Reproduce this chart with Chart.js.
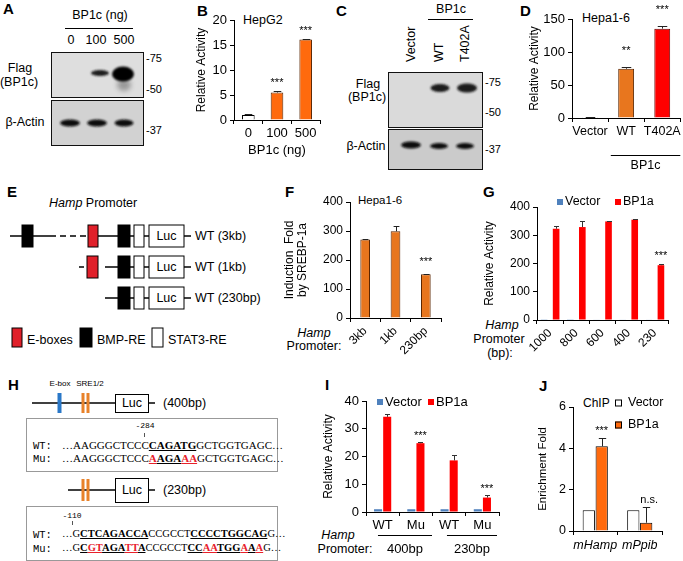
<!DOCTYPE html>
<html><head><meta charset="utf-8">
<script src="https://cdn.jsdelivr.net/npm/chart.js@4.4.1/dist/chart.umd.min.js"></script>
<style>
html,body{margin:0;padding:0;background:#fff;}
#root{position:relative;width:683px;height:561px;overflow:hidden;background:#fff;font-family:'Liberation Sans',Arial,sans-serif;color:#000;}
.seq{position:absolute;font-family:'Liberation Serif','Times New Roman',serif;font-size:11px;white-space:nowrap;line-height:1;}
.seq2{font-size:10.5px;}
.mono{font-family:'Liberation Mono','DejaVu Sans Mono',monospace;font-size:10.5px;}
.bu{font-weight:bold;text-decoration:underline;}
.r{color:#e8202a;}
canvas{position:absolute;}
</style></head><body><div id="root">
<svg width="683" height="561" style="position:absolute;left:0;top:0" font-family="'Liberation Sans', Arial, sans-serif" font-size="12.5">
<defs>
<filter id="b1" x="-50%" y="-80%" width="200%" height="260%"><feGaussianBlur stdDeviation="1.2"/></filter>
<filter id="b2" x="-50%" y="-80%" width="200%" height="260%"><feGaussianBlur stdDeviation="2.4"/></filter>
</defs>
<g font-weight="bold" font-size="15">
<text x="3" y="14">A</text><text x="197" y="16">B</text><text x="336" y="16">C</text><text x="520" y="16">D</text>
<text x="7" y="197">E</text><text x="285" y="197">F</text><text x="483" y="197">G</text>
<text x="8" y="390">H</text><text x="325" y="390">I</text><text x="539" y="391">J</text>
</g>
<!-- Panel A blot -->
<g dominant-baseline="central">
<text x="100" y="15" text-anchor="middle">BP1c (ng)</text>
<text x="71" y="40" text-anchor="middle">0</text><text x="96" y="40" text-anchor="middle">100</text><text x="124" y="40" text-anchor="middle">500</text>
<text x="20" y="68" text-anchor="middle">Flag</text><text x="19" y="82" text-anchor="middle">(BP1c)</text>
<text x="25" y="122" text-anchor="middle">β-Actin</text>
<g font-size="11"><text x="146" y="58">-75</text><text x="146" y="89">-50</text><text x="146" y="130">-37</text></g>
</g>
<line x1="65" y1="28.5" x2="133" y2="28.5" stroke="#000"/>
<rect x="51.5" y="52.5" width="92" height="45" fill="#dedede" stroke="#111"/>
<ellipse cx="100" cy="73" rx="9" ry="3" fill="#1a1a1a" filter="url(#b1)"/>
<ellipse cx="124" cy="85" rx="7" ry="6" fill="#444" opacity="0.45" filter="url(#b2)"/>
<ellipse cx="123" cy="74" rx="11" ry="7.5" fill="#050505" filter="url(#b1)"/>
<rect x="51.5" y="100.5" width="92" height="45" fill="#d2d2d2" stroke="#111"/>
<ellipse cx="70" cy="123" rx="10" ry="3.5" fill="#111" filter="url(#b1)"/>
<ellipse cx="97" cy="123" rx="10" ry="3.5" fill="#111" filter="url(#b1)"/>
<ellipse cx="124" cy="123" rx="9.5" ry="3.5" fill="#111" filter="url(#b1)"/>
<!-- Panel C blot -->
<g dominant-baseline="central">
<text x="451" y="9" text-anchor="middle">BP1c</text>
<text transform="translate(411,62) rotate(-90)">Vector</text>
<text transform="translate(439,62) rotate(-90)">WT</text>
<text transform="translate(465,62) rotate(-90)">T402A</text>
<text x="368" y="84" text-anchor="middle">Flag</text><text x="367" y="97" text-anchor="middle">(BP1c)</text>
<text x="366" y="146" text-anchor="middle">β-Actin</text>
<g font-size="11"><text x="485" y="82">-75</text><text x="485" y="112">-50</text><text x="485" y="149">-37</text></g>
</g>
<line x1="428" y1="19.5" x2="473" y2="19.5" stroke="#000"/>
<rect x="388.5" y="72.5" width="94" height="55" fill="#dadada" stroke="#111"/>
<ellipse cx="440" cy="88" rx="9.5" ry="4" fill="#1a1a1a" filter="url(#b1)"/>
<ellipse cx="467" cy="88" rx="10" ry="4.5" fill="#1a1a1a" filter="url(#b1)"/>
<rect x="388.5" y="129.5" width="94" height="40" fill="#cbcbcb" stroke="#111"/>
<ellipse cx="411" cy="145" rx="10" ry="3.5" fill="#0a0a0a" filter="url(#b1)"/>
<ellipse cx="439" cy="146" rx="9" ry="3" fill="#111" filter="url(#b1)"/>
<ellipse cx="465" cy="146" rx="9" ry="3" fill="#111" filter="url(#b1)"/>
<!-- Panel E diagram -->
<text x="49" y="203" dominant-baseline="central"><tspan font-style="italic">Hamp</tspan> Promoter</text>
<g stroke="#000" stroke-width="1.5">
<line x1="10" y1="236" x2="50" y2="236"/><line x1="50" y1="236" x2="87" y2="236" stroke-dasharray="6 4"/>
<line x1="98" y1="236" x2="191" y2="236"/>
<line x1="79" y1="267" x2="84" y2="267"/><line x1="105" y1="267" x2="191" y2="267"/>
<line x1="105" y1="298" x2="191" y2="298"/>
</g>
<g stroke="#000" stroke-width="1">
<rect x="22" y="225" width="11" height="22" fill="#000"/>
<rect x="88" y="225" width="10" height="22" fill="#e0202a"/>
<rect x="118" y="225" width="12" height="22" fill="#000"/>
<rect x="134" y="225" width="10" height="22" fill="#fff"/>
<rect x="149" y="225" width="35" height="22" fill="#fff"/>
<rect x="87" y="256" width="11" height="22" fill="#e0202a"/>
<rect x="118" y="256" width="12" height="22" fill="#000"/>
<rect x="134" y="256" width="10" height="22" fill="#fff"/>
<rect x="149" y="256" width="35" height="22" fill="#fff"/>
<rect x="118" y="287" width="12" height="22" fill="#000"/>
<rect x="134" y="287" width="10" height="22" fill="#fff"/>
<rect x="149" y="287" width="35" height="22" fill="#fff"/>
<rect x="12" y="328" width="10" height="19" fill="#e0202a"/>
<rect x="80" y="328" width="12" height="19" fill="#000"/>
<rect x="152" y="328" width="11" height="19" fill="#fff"/>
</g>
<g dominant-baseline="central">
<text x="166.5" y="236" text-anchor="middle">Luc</text><text x="195" y="236">WT (3kb)</text>
<text x="166.5" y="267" text-anchor="middle">Luc</text><text x="195" y="267">WT (1kb)</text>
<text x="166.5" y="298" text-anchor="middle">Luc</text><text x="195" y="298">WT (230bp)</text>
<text x="27" y="340">E-boxes</text><text x="97" y="340">BMP-RE</text><text x="168" y="340">STAT3-RE</text>
</g>
<!-- Panel F/G/I/J side labels -->
<g dominant-baseline="central" text-anchor="middle">
<text x="314" y="333" font-style="italic">Hamp</text><text x="314" y="346">Promoter:</text>
<text x="502" y="325" font-style="italic">Hamp</text><text x="499" y="339">Promoter</text><text x="500" y="353">(bp):</text>
<text x="338" y="535" font-style="italic">Hamp</text><text x="345" y="549">Promoter:</text>
<text x="243" y="20" text-anchor="start">HepG2</text>
<text x="582" y="18" text-anchor="start">Hepa1-6</text>
<text x="358" y="200" text-anchor="start" font-size="11.5">Hepa1-6</text>
<text x="583" y="403" text-anchor="start" font-size="12">ChIP</text>
</g>
<!-- Panel H diagram -->
<g font-size="8" text-anchor="middle" dominant-baseline="central"><text x="60" y="383">E-box</text><text x="90" y="383">SRE1/2</text></g>
<g stroke="#000" stroke-width="1.5">
<line x1="32" y1="403" x2="115" y2="403"/><line x1="148" y1="403" x2="155" y2="403"/>
<line x1="68" y1="490" x2="115" y2="490"/><line x1="148" y1="490" x2="155" y2="490"/>
</g>
<rect x="57.5" y="393" width="4" height="20" fill="#2a78c8"/>
<rect x="81.5" y="393" width="3" height="20" fill="#e8822a"/><rect x="86.5" y="393" width="3" height="20" fill="#e8822a"/>
<rect x="81.5" y="479" width="3" height="22" fill="#e8822a"/><rect x="86.5" y="479" width="3" height="22" fill="#e8822a"/>
<rect x="115.5" y="394.5" width="33" height="18" fill="#fff" stroke="#000"/>
<rect x="115.5" y="478.5" width="33" height="24" fill="#fff" stroke="#000"/>
<g dominant-baseline="central">
<text x="132" y="403" text-anchor="middle">Luc</text><text x="163" y="403">(400bp)</text>
<text x="132" y="490" text-anchor="middle">Luc</text><text x="163" y="490">(230bp)</text>
</g>
<rect x="26.5" y="418.5" width="251" height="53" fill="none" stroke="#999"/>
<rect x="26.5" y="506.5" width="251" height="54" fill="none" stroke="#999"/>
<line x1="144.5" y1="433" x2="144.5" y2="437" stroke="#555"/>
<line x1="72.5" y1="521" x2="72.5" y2="525" stroke="#555"/>
</svg>
<div class="seq mono" style="left:145px;top:422px;font-size:8px;transform:translateX(-50%)">-284</div>
<div class="seq mono" style="left:33px;top:441px">WT:</div>
<div class="seq" style="left:62px;top:440px">…AAGGGCTCCC<span class="bu">CAGATG</span>GCTGGTGAGC…</div>
<div class="seq mono" style="left:33px;top:454px">Mu:</div>
<div class="seq" style="left:62px;top:453px">…AAGGGCTCCC<span class="bu r">A</span><span class="bu">AGA</span><span class="bu r">AA</span>GCTGGTGAGC…</div>
<div class="seq mono" style="left:72px;top:512px;font-size:8px;transform:translateX(-50%)">-110</div>
<div class="seq mono" style="left:33px;top:530px">WT:</div>
<div class="seq seq2" style="left:62px;top:529px">…G<span class="bu">CTCAGACCA</span>CCGCCT<span class="bu">CCCCTGGCAG</span>G…</div>
<div class="seq mono" style="left:33px;top:544px">Mu:</div>
<div class="seq seq2" style="left:62px;top:543px">…G<span class="bu">C</span><span class="bu r">GT</span><span class="bu">AGA</span><span class="bu r">TT</span><span class="bu">A</span>CCGCCT<span class="bu">CC</span><span class="bu r">AA</span><span class="bu">TGG</span><span class="bu r">A</span><span class="bu">A</span><span class="bu r">A</span>G…</div>
</div>
<script>
// ---------- data ----------
const catsB = ['0', '100', '500'];
const valsB = [1.0, 5.5, 16.1];
const errB = [0.15, 0.25, 0.1];

const catsD = ['Vector', 'WT', 'T402A'];
const valsD = [1.2, 74.7, 135.4];
const errD = [0.4, 3, 4.5];

const catsF = ['3kb', '1kb', '230bp'];
const valsF = [271, 299, 151];
const errF = [3, 17, 2];

const catsG = ['1000', '800', '600', '400', '230'];
const vectorG = [1, 1, 2, 2, 2];
const bp1aG = [323, 329, 349, 355, 194];
const errG = [10, 20, 2, 4, 5];

const catsI = ['WT', 'Mu', 'WT', 'Mu'];
const vectorI = [1, 1, 1, 1];
const bp1aI = [34.3, 24.8, 18.6, 5.2];
const errI = [1.0, 0.3, 2.0, 0.9];

const catsJ = ['mHamp', 'mPpib'];
const vectorJ = [1, 1];
const bp1aJ = [4.1, 0.4];
const errJ = [0.38, 0.75];

// ---------- helpers ----------
const FONT = "'Liberation Sans', Arial, sans-serif";
Chart.defaults.font.family = FONT;
Chart.defaults.color = '#000';
Chart.defaults.animation = false;
Chart.defaults.plugins.legend.display = false;
Chart.defaults.plugins.tooltip.enabled = false;
const root = document.getElementById('root');

function mk(box, area, config) {
  const c = document.createElement('canvas');
  c.width = box.w; c.height = box.h;
  c.style.left = box.x + 'px'; c.style.top = box.y + 'px';
  c.style.width = box.w + 'px'; c.style.height = box.h + 'px';
  root.appendChild(c);
  config.options.responsive = false;
  config.options.devicePixelRatio = 1;
  config.options.layout = {autoPadding: false, padding: {left: 0, top: area.t - box.y, right: box.x + box.w - area.r, bottom: 0}};
  config.options.scales.x.afterFit = s => { s.height = box.y + box.h - area.b; };
  config.options.scales.y.afterFit = s => { s.width = area.l - box.x; };
  const extra = config.plugins || [];
  extra.forEach(p => p.box = box);
  return new Chart(c, config);
}
function yAxis(max, step, size, title, tsize, lh) {
  return {min: 0, max: max,
    ticks: {stepSize: step, color: '#000', font: {size: size}, padding: 3},
    grid: {display: true, drawOnChartArea: false, drawTicks: true, tickLength: 4, color: '#000'},
    border: {display: true, color: '#000'},
    title: {display: true, text: title, color: '#000', font: {size: tsize, lineHeight: lh || 1.2}, padding: 0}};
}
function xAxis(size, rot, extra) {
  return Object.assign({
    ticks: {color: '#000', font: {size: size}, padding: 2, minRotation: rot, maxRotation: rot, autoSkip: false},
    grid: {display: true, drawOnChartArea: false, drawTicks: true, tickLength: 4, color: '#000', offset: true},
    border: {display: true, color: '#000'}}, extra || {});
}
const errPlugin = {id: 'errbars', afterDatasetsDraw(chart) {
  const ctx = chart.ctx, y = chart.scales.y;
  chart.data.datasets.forEach((ds, di) => {
    if (!ds.errors) return;
    chart.getDatasetMeta(di).data.forEach((bar, i) => {
      const e = ds.errors[i]; if (!e) return;
      const top = Math.round(y.getPixelForValue(ds.data[i] + e)) + 0.5;
      const w = Math.max(2.5, bar.width * 0.3);
      const x = Math.round(bar.x) + 0.5;
      ctx.save(); ctx.strokeStyle = ds.errColor || '#222'; ctx.lineWidth = 1;
      ctx.beginPath(); ctx.moveTo(x, bar.y); ctx.lineTo(x, top);
      ctx.moveTo(x - w, top); ctx.lineTo(x + w, top); ctx.stroke(); ctx.restore();
    });
  });
}};
function marks(list, gap, size) {
  return {id: 'marks', afterDatasetsDraw(chart) {
    const ctx = chart.ctx, y = chart.scales.y;
    ctx.save(); ctx.fillStyle = '#000'; ctx.font = (size || 11) + 'px ' + FONT;
    ctx.textAlign = 'center'; ctx.textBaseline = 'bottom';
    list.forEach(m => {
      const ds = chart.data.datasets[m.ds];
      const bar = chart.getDatasetMeta(m.ds).data[m.i];
      const v = ds.data[m.i] + ((ds.errors && ds.errors[m.i]) || 0);
      ctx.fillText(m.text, bar.x + (m.dx || 0), y.getPixelForValue(v) - (m.gap != null ? m.gap : gap));
    });
    ctx.restore();
  }};
}
function groups(items, lineDy, labelDy, size) {
  return {id: 'groups', afterDraw(chart) {
    const ctx = chart.ctx, x = chart.scales.x, b = chart.chartArea.bottom;
    const half = (x.getPixelForValue(1) - x.getPixelForValue(0)) / 2;
    ctx.save(); ctx.strokeStyle = '#000'; ctx.fillStyle = '#000'; ctx.lineWidth = 1;
    ctx.font = size + 'px ' + FONT; ctx.textAlign = 'center'; ctx.textBaseline = 'middle';
    items.forEach(g => {
      const x1 = x.getPixelForValue(g.from) - half * g.pl, x2 = x.getPixelForValue(g.to) + half * g.pr;
      ctx.beginPath(); ctx.moveTo(x1, Math.round(b + lineDy) + 0.5); ctx.lineTo(x2, Math.round(b + lineDy) + 0.5); ctx.stroke();
      ctx.fillText(g.label, (x1 + x2) / 2, b + labelDy);
    });
    ctx.restore();
  }};
}
function legend(items, sq, size) {
  const p = {id: 'boxlegend', afterDraw(chart) {
    const ctx = chart.ctx, bx = p.box;
    ctx.save(); ctx.font = size + 'px ' + FONT; ctx.textBaseline = 'middle'; ctx.textAlign = 'left';
    items.forEach(it => {
      const ds = chart.data.datasets[it.ds];
      const x = it.x - bx.x, y = it.y - bx.y;
      const bg = Array.isArray(ds.backgroundColor) ? ds.backgroundColor[0] : ds.backgroundColor;
      ctx.fillStyle = bg; ctx.fillRect(x, y - sq / 2, sq, sq);
      if (ds.borderWidth) { ctx.strokeStyle = '#000'; ctx.lineWidth = 1; ctx.strokeRect(x + 0.5, y - sq / 2 + 0.5, sq - 1, sq - 1); }
      ctx.fillStyle = '#000'; ctx.fillText(ds.label, x + sq + (it.gap || 2), y);
    });
    ctx.restore();
  }};
  return p;
}
const OR = '#ff6a0d', ORD = '#e8761e', RED = '#ff0000', BLUE = '#4f81bd', DARK = '#5a2500';

// ---------- B ----------
mk({x: 194, y: 0, w: 128, h: 158}, {l: 234, t: 20, r: 320, b: 120}, {
  type: 'bar',
  data: {labels: catsB, datasets: [{data: valsB, errors: errB,
    backgroundColor: ['#ffffff', OR, OR], borderColor: ['#000', DARK, DARK], borderWidth: 1,
    barPercentage: 0.55, categoryPercentage: 0.8}]},
  options: {scales: {x: xAxis(13, 0, {title: {display: true, text: 'BP1c (ng)', color: '#000', font: {size: 13}, padding: 0}}),
    y: yAxis(20, 5, 13, 'Relative Activity', 12)}},
  plugins: [errPlugin, marks([{ds: 0, i: 1, text: '***'}, {ds: 0, i: 2, text: '***'}], 3)]
});
// ---------- D ----------
mk({x: 527, y: 0, w: 156, h: 175}, {l: 572, t: 19, r: 681, b: 118}, {
  type: 'bar',
  data: {labels: catsD, datasets: [{data: valsD, errors: errD,
    backgroundColor: ['#ffffff', ORD, RED], borderColor: ['#000', DARK, '#6a0000'], borderWidth: 1,
    barPercentage: 0.55, categoryPercentage: 0.8}]},
  options: {scales: {x: xAxis(12.5, 0), y: yAxis(150, 50, 13, 'Relative Activity', 12)}},
  plugins: [errPlugin, marks([{ds: 0, i: 1, text: '**'}, {ds: 0, i: 2, text: '***'}], 10),
    groups([{from: 1, to: 2, pl: 0.85, pr: 1.0, label: 'BP1c'}], 37, 48, 12.5)]
});
// ---------- F ----------
mk({x: 283, y: 190, w: 160, h: 185}, {l: 350, t: 202, r: 441, b: 318}, {
  type: 'bar',
  data: {labels: catsF, datasets: [{data: valsF, errors: errF,
    backgroundColor: ORD, borderColor: DARK, borderWidth: 1,
    barPercentage: 0.4, categoryPercentage: 0.8}]},
  options: {scales: {x: xAxis(12, 45), y: yAxis(400, 100, 12, ['Induction  Fold', 'by SREBP-1a'], 12, 1.08)}},
  plugins: [errPlugin, marks([{ds: 0, i: 2, text: '***'}], 6)]
});
// ---------- G ----------
mk({x: 482, y: 190, w: 201, h: 185}, {l: 537, t: 207, r: 668, b: 320}, {
  type: 'bar',
  data: {labels: catsG, datasets: [
    {label: 'Vector', data: vectorG, backgroundColor: BLUE, borderWidth: 0, barPercentage: 0.55, categoryPercentage: 0.92},
    {label: 'BP1a', data: bp1aG, errors: errG, errColor: '#333', backgroundColor: RED, borderWidth: 0, barPercentage: 0.55, categoryPercentage: 0.92}]},
  options: {scales: {x: xAxis(12, 45), y: yAxis(400, 100, 12, 'Relative Activity', 12)}},
  plugins: [errPlugin, marks([{ds: 1, i: 4, text: '***'}], 2),
    legend([{ds: 0, x: 557, y: 202}, {ds: 1, x: 615, y: 202}], 6, 12.5)]
});
// ---------- I ----------
mk({x: 321, y: 385, w: 182, h: 176}, {l: 366, t: 401, r: 499, b: 512}, {
  type: 'bar',
  data: {labels: catsI, datasets: [
    {label: 'Vector', data: vectorI, backgroundColor: BLUE, borderWidth: 0, barPercentage: 0.88, categoryPercentage: 0.55},
    {label: 'BP1a', data: bp1aI, errors: errI, errColor: '#333', backgroundColor: RED, borderWidth: 0, barPercentage: 0.88, categoryPercentage: 0.55}]},
  options: {scales: {x: xAxis(13, 0), y: yAxis(40, 10, 13, 'Relative Activity', 12)}},
  plugins: [errPlugin, marks([{ds: 1, i: 1, text: '***'}, {ds: 1, i: 3, text: '***'}], 1),
    groups([{from: 0, to: 1, pl: 0.28, pr: 0.97, label: '400bp'}, {from: 2, to: 3, pl: 0.13, pr: 0.88, label: '230bp'}], 23, 37, 13),
    legend([{ds: 0, x: 377, y: 402}, {ds: 1, x: 428, y: 402}], 6, 13)]
});
// ---------- J ----------
mk({x: 536, y: 385, w: 147, h: 176}, {l: 573, t: 407, r: 662, b: 531}, {
  type: 'bar',
  data: {labels: catsJ, datasets: [
    {label: 'Vector', data: vectorJ, backgroundColor: '#ffffff', borderColor: '#000', borderWidth: 1, barPercentage: 0.95, categoryPercentage: 0.58},
    {label: 'BP1a', data: bp1aJ, errors: errJ, backgroundColor: OR, borderColor: '#000', borderWidth: 1, barPercentage: 0.95, categoryPercentage: 0.58}]},
  options: {scales: {x: xAxis(12.5, 0, {ticks: {color: '#000', font: {size: 12.5, style: 'italic'}, padding: 3, autoSkip: false, maxRotation: 0}}),
    y: yAxis(6, 2, 12.5, 'Enrichment Fold', 11.5)}},
  plugins: [errPlugin, marks([{ds: 1, i: 0, text: '***'}, {ds: 1, i: 1, text: 'n.s.', gap: 2, dx: 3}], 2),
    legend([{ds: 0, x: 615, y: 403, gap: 6}, {ds: 1, x: 615, y: 425, gap: 6}], 7, 12.5)]
});
</script>
</body></html>
